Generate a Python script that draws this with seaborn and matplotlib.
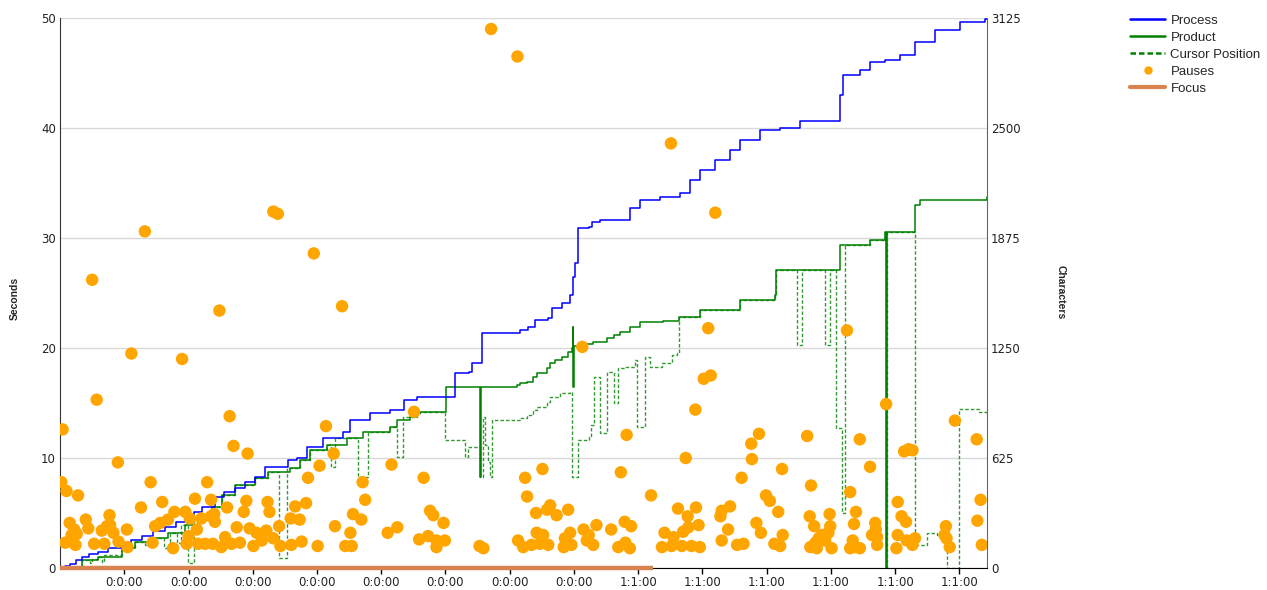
import pandas as pd
import seaborn as sns
import matplotlib.pyplot as plt
from matplotlib.lines import Line2D

# x axis: one unit per tick, labels as printed on the chart
tick_pos = list(range(1, 15))
tick_labels = ["0:0:00"] * 8 + ["1:1:00"] * 6
sec_ticks = [0, 10, 20, 30, 40, 50]
char_ticks = [0, 625, 1250, 1875, 2500, 3125]

# process (characters typed, cumulative)
process_t = [0, 0.08, 0.16, 0.25, 0.34, 0.45, 0.59, 0.75, 0.96, 1.10, 1.27, 1.45, 1.63, 1.80,
             1.95, 2.08, 2.21, 2.41, 2.55, 2.72, 2.88, 3.04, 3.19, 3.55,
             3.69, 3.84, 4.10, 4.41, 4.52, 4.83, 5.14, 5.35, 5.55, 6.15, 6.36, 6.41, 6.57,
             7.16, 7.29, 7.40, 7.60, 7.66, 7.81, 7.94, 7.99, 8.02, 8.07, 8.23, 8.28, 8.41,
             8.87, 9.03, 9.34, 9.65, 9.81, 9.96, 10.20, 10.43, 10.59, 10.90, 11.21, 11.52,
             12.14, 12.19, 12.46, 12.61, 12.84, 13.08, 13.31, 13.62, 14.01, 14.40, 14.43]
process_c = [0, 11, 23, 45, 64, 80, 93, 115, 140, 160, 184, 210, 235, 262,
             286, 318, 348, 405, 430, 455, 490, 519, 576, 614,
             623, 689, 737, 774, 841, 879, 898, 955, 973, 1106, 1115, 1163, 1334,
             1352, 1371, 1409, 1419, 1476, 1504, 1551, 1655, 1731, 1930, 1939, 1968, 1977,
             2046, 2091, 2108, 2131, 2205, 2261, 2318, 2375, 2432, 2489, 2500, 2540,
             2688, 2801, 2830, 2875, 2886, 2915, 2989, 3057, 3102, 3119, 3119]

# product (characters in text)
product_t = [0, 0.34, 0.59, 0.96, 1.17, 1.48, 1.68, 1.95, 2.15, 2.36, 2.52, 2.72, 3.04, 3.24,
             3.58, 3.74, 3.89, 4.15, 4.46, 4.72, 5.14, 5.24, 5.45, 5.55, 5.60, 6.01, 6.54,
             6.55, 7.11, 7.16, 7.27, 7.37, 7.42, 7.58, 7.63, 7.71, 7.81, 7.91, 7.97, 7.98,
             7.99, 8.00, 8.15, 8.30, 8.51, 8.62, 8.72, 8.87, 9.03, 9.39, 9.63, 9.96, 10.59,
             11.13, 11.15, 12.14, 12.61, 12.84, 12.86, 12.87, 13.31, 13.39, 14.43]
product_c = [0, 45, 64, 112, 149, 169, 197, 244, 291, 348, 415, 472, 510, 547,
             566, 614, 670, 699, 737, 774, 803, 841, 860, 879, 888, 1030, 517,
             1030, 1040, 1049, 1059, 1087, 1106, 1135, 1163, 1182, 1201, 1229, 1248, 1371,
             1030, 1260, 1270, 1286, 1305, 1324, 1343, 1371, 1399, 1405, 1428, 1466, 1523,
             1551, 1693, 1835, 1864, 1909, 0, 1909, 2063, 2091, 2108]

# cursor position
cursor_t = [0, 0.34, 0.46, 0.50, 0.59, 0.65, 0.69, 0.96, 1.17, 1.33, 1.37, 1.48, 1.62, 1.71,
            1.82, 1.88, 1.99, 2.09, 2.36, 2.52, 2.72, 3.04, 3.24, 3.41, 3.53, 3.74, 3.89,
            4.15, 4.22, 4.28, 4.46, 4.64, 4.80, 5.14, 5.24, 5.34, 5.55, 5.60, 5.99, 6.31,
            6.35, 6.54, 6.59, 6.62, 6.66, 6.70, 6.72, 7.16, 7.27, 7.37, 7.42, 7.58, 7.63,
            7.79, 7.94, 7.97, 8.07, 8.23, 8.26, 8.31, 8.41, 8.51, 8.62, 8.69, 8.80, 8.95,
            8.98, 9.11, 9.19, 9.37, 9.53, 9.60, 9.63, 9.96, 10.59, 11.13, 11.15, 11.47,
            11.55, 11.91, 11.99, 12.08, 12.17, 12.22, 12.61, 12.84, 12.86, 12.87, 13.31,
            13.49, 13.65, 13.73, 13.80, 13.99, 14.30, 14.43]
cursor_c = [0, 45, 28, 50, 64, 36, 75, 112, 149, 131, 160, 169, 114, 197,
            142, 244, 28, 291, 348, 415, 472, 510, 547, 57, 566, 614, 670,
            699, 576, 737, 737, 519, 774, 803, 632, 860, 879, 888, 727, 632,
            689, 517, 860, 700, 600, 517, 841, 851, 869, 898, 917, 945, 973,
            993, 1002, 519, 727, 746, 813, 1087, 765, 1115, 936, 1135, 1144, 1182,
            803, 1201, 1144, 1165, 1210, 1220, 1428, 1466, 1523, 1551, 1693, 1267,
            1693, 1267, 1693, 795, 312, 1835, 1864, 1909, 0, 1909, 131,
            197, 187, 178, 0, 902, 888, 888]

# pauses (seconds)
pause_t = [0.04, 0.57, 0.02, 0.10, 0.28, 0.90, 0.15, 0.22, 0.18, 0.26, 0.08, 0.24, 0.40, 0.44,
           0.53, 0.69, 0.65, 0.77, 0.78, 0.73, 0.83, 0.91, 1.04, 1.05, 1.26, 1.41, 1.59, 1.44,
           1.48, 1.56, 1.68, 1.78, 1.95, 1.76, 2.10, 2.29, 2.35, 2.02, 2.13, 2.00, 1.97, 2.15,
           2.26, 2.20, 2.35, 2.40, 2.41, 2.38, 2.51, 2.57, 2.60, 2.64, 2.70, 2.92, 2.67, 2.75,
           2.80, 2.86, 2.90, 2.95, 3.06, 3.01, 3.21, 3.23, 3.26, 3.14, 3.32, 3.41, 3.43, 3.59,
           3.60, 3.66,
           4.14, 4.26, 4.04, 3.86, 3.83, 3.73, 3.76, 4.01, 4.28, 4.44, 4.54, 4.52, 4.56, 4.69,
           4.71, 4.75, 5.16, 5.10, 5.25, 5.51, 5.66, 5.76, 5.81, 5.97, 5.59, 5.73, 5.86, 5.86,
           5.99, 6.53, 6.59, 7.24, 7.27, 7.13, 7.21,
           7.51, 7.41, 7.63, 7.58, 7.73, 7.91, 7.42, 7.52, 7.34, 7.47, 7.60, 7.86, 7.94, 7.84,
           7.96, 8.15, 8.23, 8.20, 8.30, 8.35, 8.58, 8.79, 8.89, 8.80, 8.69, 8.87, 8.73, 8.82,
           9.20, 9.41, 9.37, 9.55, 9.52, 9.62, 9.77, 9.90, 9.70, 9.78, 9.94, 9.68, 9.83, 9.96,
           9.74, 9.89, 10.02, 10.13, 10.28, 10.43, 10.30, 10.40, 10.30, 10.54, 10.64, 10.61,
           10.77, 10.76, 10.88, 10.84, 10.91,
           11.24, 10.99, 11.05, 11.18, 11.25, 11.12, 11.21, 11.63, 11.69, 11.67, 11.74, 11.98,
           11.99, 11.68, 11.76, 11.81, 11.86, 11.91, 11.78, 12.01, 11.96, 12.30, 12.39, 12.36,
           12.45, 12.61, 12.34, 12.38, 12.30, 12.45, 12.69, 12.70, 12.64, 12.72, 12.72, 12.86,
           13.04, 13.10, 13.17, 13.04, 13.18, 13.27, 13.31, 13.02, 13.14, 13.21, 13.27, 13.79,
           13.80, 13.85, 13.77, 13.93, 14.27, 14.33, 14.28, 14.35,
           0.50, 1.11, 1.32, 1.90, 2.48, 3.32, 3.39, 3.95, 4.39, 6.71, 7.12, 8.13, 9.51, 10.09,
           10.20, 12.25]
pause_s = [12.6, 15.3, 7.8, 7.0, 6.6, 9.6, 4.1, 3.5, 3.0, 3.1, 2.3, 2.1, 4.4, 3.6,
           2.2, 2.2, 3.4, 4.8, 3.9, 3.8, 3.2, 2.4, 3.5, 1.9, 5.5, 7.8, 6.0, 2.3,
           3.8, 4.1, 4.4, 5.1, 5.1, 1.8, 6.3, 7.8, 6.2, 4.5, 3.5, 2.9, 2.2, 2.2,
           2.2, 4.5, 4.7, 4.9, 4.2, 2.2, 1.9, 2.8, 5.5, 13.8, 11.1, 10.4, 2.2, 3.7,
           2.3, 5.1, 6.1, 3.6, 3.2, 2.0, 3.4, 6.0, 5.1, 2.5, 2.7, 3.8, 2.0, 4.5,
           2.1, 5.6,
           12.9, 10.4, 9.3, 8.2, 5.9, 4.4, 2.4, 2.0, 3.8, 2.0, 2.0, 3.2, 4.9, 4.4,
           7.8, 6.2, 9.4, 3.2, 3.7, 14.2, 8.2, 5.2, 4.8, 4.1, 2.6, 2.9, 2.5, 1.9,
           2.5, 2.0, 1.8, 8.2, 6.5, 2.5, 1.9,
           9.0, 5.0, 5.7, 5.3, 4.8, 5.3, 3.2, 3.0, 2.1, 2.2, 2.1, 2.7, 3.2, 1.9,
           2.1, 3.5, 3.0, 2.5, 2.1, 3.9, 3.5, 4.2, 3.8, 2.3, 1.9, 1.8, 8.7, 12.1,
           6.6, 3.2, 1.9, 2.8, 2.0, 5.4, 4.7, 5.5, 3.3, 3.7, 3.9, 2.0, 2.0, 1.9,
           10.0, 14.4, 17.2, 17.5, 4.7, 5.6, 5.2, 3.5, 2.5, 2.1, 2.2, 8.2,
           9.9, 11.3, 12.2, 4.1, 3.2,
           9.0, 6.6, 6.1, 5.1, 3.0, 2.2, 2.0, 12.0, 7.5, 4.7, 3.8, 4.9,
           3.8, 1.9, 2.3, 2.7, 3.0, 2.5, 1.8, 1.8, 3.2, 6.9, 5.1, 4.0,
           11.7, 9.2, 2.5, 1.9, 1.8, 1.8, 4.1, 3.5, 3.0, 2.8, 2.1, 14.9,
           6.0, 4.7, 4.2, 3.0, 2.5, 2.1, 2.7, 1.8, 10.6, 10.8, 10.7, 3.8,
           2.7, 1.9, 3.0, 13.4, 11.7, 6.2, 4.3, 2.1,
           26.2, 19.5, 30.6, 19.0, 23.4, 32.4, 32.2, 28.6, 23.8, 49.0, 46.5, 20.1, 38.6, 21.8,
           32.3, 21.6]

# focus (window in focus)
focus_t = [0, 9.23]
focus_s = [0, 0]

BLUE = "#0000ff"
GREEN = "#008000"
ORANGE = "#ffa500"
FOCUS = "#d9844e"

sns.set_style("white")
plt.rcParams["font.family"] = ["DejaVu Sans"]

fig = plt.figure(figsize=(12.67, 5.9), dpi=100)
ax = fig.add_axes([0.0474, 0.0373, 0.7316, 0.9322])
ax2 = ax.twinx()
ax.set_zorder(2)
ax2.set_zorder(1)
ax.patch.set_visible(False)

# lines on the characters axis
df_proc = pd.DataFrame({"t": process_t, "c": process_c})
df_prod = pd.DataFrame({"t": product_t, "c": product_c})
df_cur = pd.DataFrame({"t": cursor_t, "c": cursor_c})
sns.lineplot(data=df_cur, x="t", y="c", ax=ax2, color=GREEN, linewidth=1.0, alpha=0.8,
             linestyle=(0, (2.5, 1.5)), drawstyle="steps-post", estimator=None, sort=False)
sns.lineplot(data=df_prod, x="t", y="c", ax=ax2, color=GREEN, linewidth=1.1,
             drawstyle="steps-post", estimator=None, sort=False)
sns.lineplot(data=df_proc, x="t", y="c", ax=ax2, color=BLUE, linewidth=1.1,
             drawstyle="steps-post", estimator=None, sort=False)

# pauses + focus on the seconds axis
sns.scatterplot(x=pause_t, y=pause_s, ax=ax, color=ORANGE, s=80, edgecolor="none", zorder=3)
sns.lineplot(x=focus_t, y=focus_s, ax=ax, color=FOCUS, linewidth=3.2, estimator=None,
             sort=False, solid_capstyle="butt", clip_on=False, zorder=4)

ax.set_xlim(0, 14.43)
ax.set_ylim(0, 50)
ax2.set_ylim(0, 3125)

ax.set_xticks(tick_pos, tick_labels)
ax.set_yticks(sec_ticks, [str(v) for v in sec_ticks])
ax2.set_yticks(char_ticks, [str(v) for v in char_ticks])
ax.tick_params(axis="x", direction="out", length=4, width=1, color="black",
               labelsize=8.5, labelcolor="#222222", pad=2, bottom=True)
ax.tick_params(axis="y", length=0, pad=3, labelsize=8.5, labelcolor="#222222")
ax2.tick_params(axis="y", length=0, pad=3, labelsize=8.5, labelcolor="#222222")

ax.grid(False)
ax2.grid(axis="y", color="#d9d9d9", linewidth=1)
ax2.grid(axis="x", visible=False)

for s in ["top", "right"]:
    ax.spines[s].set_visible(False)
for s in ["top", "left", "bottom"]:
    ax2.spines[s].set_visible(False)
ax.spines["left"].set_color("#333333")
ax.spines["bottom"].set_color("black")
ax2.spines["right"].set_color("#666666")

ax.set_xlabel("")
ax.set_ylabel("")
ax2.set_ylabel("")

fig.text(0.0118, 0.495, "Seconds", rotation=90, ha="center", va="center",
         fontsize=7.5, fontweight="bold", family=["Liberation Sans", "DejaVu Sans"])
fig.text(0.837, 0.505, "Characters", rotation=270, ha="center", va="center",
         fontsize=7.5, fontweight="bold", family=["Liberation Sans", "DejaVu Sans"])

handles = [
    Line2D([], [], color=BLUE, linewidth=1.8),
    Line2D([], [], color=GREEN, linewidth=1.8),
    Line2D([], [], color=GREEN, linewidth=1.8, linestyle=(0, (2.2, 1.2))),
    Line2D([], [], color=ORANGE, linestyle="none", marker="o", markersize=6,
           markeredgewidth=0),
    Line2D([], [], color=FOCUS, linewidth=3),
]
labels = ["Process", "Product", "Cursor Position", "Pauses", "Focus"]
ax.legend(handles, labels, loc="upper left", bbox_to_anchor=(0.892, 0.975),
          bbox_transform=fig.transFigure, frameon=False, borderaxespad=0, borderpad=0,
          handlelength=2.65, handletextpad=0.4, labelspacing=0.36,
          prop={"family": ["Liberation Sans", "DejaVu Sans"], "size": 9.5})

fig.savefig("out.png", dpi=100)
